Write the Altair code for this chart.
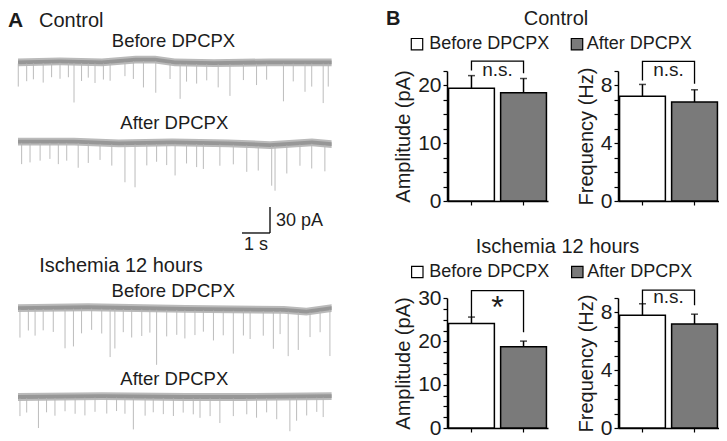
import altair as alt
import numpy as np
import pandas as pd

FONT = "Liberation Sans"
INK = "#1c1c1c"

# ---------------- Panel A: sample traces (events) ----------------
# event times (s) and amplitudes (pA) of the visible inward currents
ctrl_before_t = [0.01, 0.31, 0.55, 0.90, 1.20, 1.50, 1.80, 2.00, 2.27, 2.51, 2.75, 3.05, 3.29, 3.82, 4.12,
                 4.48, 4.92, 5.43, 5.79, 6.02, 6.38, 6.74, 7.15, 7.57, 8.05, 8.52, 8.88, 9.48, 9.83, 10.25,
                 10.49, 10.90, 11.08]
ctrl_before_amp = [28, 22, 20, 24, 18, 20, 18, 47, 22, 18, 24, 20, 22, 18, 22, 32, 38, 20, 42, 22, 24, 20,
                   28, 38, 20, 26, 20, 45, 22, 34, 28, 47, 28]
ctrl_after_t = [0.13, 0.43, 0.79, 1.14, 1.44, 1.74, 2.15, 2.51, 2.93, 3.35, 3.82, 4.18, 4.60, 4.95, 5.31,
                5.61, 6.02, 6.38, 6.62, 7.21, 7.69, 8.17, 8.58, 9.06, 9.18, 9.60, 10.07, 10.49, 10.96]
ctrl_after_amp = [26, 24, 22, 20, 26, 22, 30, 24, 20, 26, 45, 51, 26, 22, 26, 38, 24, 28, 30, 26, 24, 32,
                  30, 47, 53, 34, 26, 30, 32]
isch_before_t = [0.07, 0.37, 0.61, 0.90, 1.26, 1.68, 1.98, 2.27, 2.63, 2.99, 3.29, 3.46, 3.76, 4.06, 4.42,
                 4.71, 4.95, 5.31, 5.67, 5.96, 6.32, 6.62, 6.98, 7.33, 7.69, 8.05, 8.29, 8.76, 9.12, 9.36,
                 9.65, 10.01, 10.43, 10.79, 11.14]
isch_before_amp = [34, 26, 32, 26, 28, 47, 45, 30, 26, 30, 57, 47, 28, 34, 32, 28, 65, 32, 30, 34, 30, 26,
                   36, 30, 51, 30, 34, 30, 45, 28, 53, 45, 30, 26, 55]
isch_after_t = [0.07, 0.31, 0.73, 1.02, 1.32, 1.68, 2.04, 2.39, 2.75, 3.17, 3.52, 3.82, 4.12, 4.54, 4.83,
                5.19, 5.55, 5.90, 6.26, 6.50, 6.86, 7.21, 7.69, 8.17, 8.52, 8.88, 9.24, 9.71, 9.95, 10.31,
                10.67, 10.90]
isch_after_amp = [22, 18, 36, 18, 22, 17, 20, 22, 18, 20, 17, 20, 38, 22, 18, 20, 22, 18, 20, 24, 22, 30,
                  22, 20, 24, 18, 26, 40, 28, 22, 18, 24]

# slow baseline drift (pA) read at a few times (s)
ctrl_before_drift_t = [0, 1.5, 3.0, 4.2, 4.9, 5.6, 7.0, 9.0, 11.2]
ctrl_before_drift = [0, 1, 0, 3, 3, 0, -1, 0, 0]
ctrl_after_drift_t = [0, 2.0, 3.6, 5.5, 7.5, 9.0, 10.5, 11.2]
ctrl_after_drift = [2, 2, 0, 1, 0, -2, 1, -1]
isch_before_drift_t = [0, 2.5, 6.0, 9.5, 10.3, 11.2]
isch_before_drift = [1, 2, 0, -1, -3, 1]
isch_after_drift_t = [0, 3.0, 6.0, 8.0, 11.2]
isch_after_drift = [0, 1, 0, 0, 1]

SCALE_BAR_S = 1        # s
SCALE_BAR_PA = 30      # pA

# ---------------- Panel B: bar-graph values ----------------
conditions = ["Before DPCPX", "After DPCPX"]
ctrl_amp_mean = [19.5, 18.75]
ctrl_amp_sem = [2.2, 2.45]
ctrl_freq_mean = [7.25, 6.85]
ctrl_freq_sem = [0.82, 0.85]
isch_amp_mean = [24.1, 18.75]
isch_amp_sem = [1.5, 1.3]
isch_freq_mean = [7.8, 7.2]
isch_freq_sem = [0.8, 0.68]
significance = ["n.s.", "n.s.", "*", "n.s."]

# ---------------- layout constants ----------------
PX_PER_S = 28.0
PX_PER_PA = 425.0 / 490.0
A_W = 369
ROW_H = [63, 130, 97, 130]
trace_offsets = [-62.6, -156.0, -347.0, -448.5]   # vertical placement of the 4 traces (pA units)
NOISE_OUT, NOISE_IN = 4.5, 2.2
BW, BH = 101, 130

ONE = pd.DataFrame({"k": [0]})


def text_mark(s, x, y, size, align="left", weight="normal"):
    return alt.Chart(ONE).mark_text(
        text=s, font=FONT, fontSize=size, fontWeight=weight, align=align,
        baseline="alphabetic", color=INK
    ).encode(x=alt.value(x), y=alt.value(y))


def square(x, y, fill):
    return alt.Chart(ONE).mark_square(
        size=130, fill=fill, stroke="black", strokeWidth=1.2, opacity=1
    ).encode(x=alt.value(x), y=alt.value(y))


def blank(w, h):
    return alt.Chart(ONE).mark_text(text=" ", opacity=0, fontSize=2, baseline="middle").encode(
        x=alt.value(w / 2), y=alt.value(h / 2)).properties(width=w, height=h)


# ---- build panel A tables ----
traces = [
    (ctrl_before_t, ctrl_before_amp, ctrl_before_drift_t, ctrl_before_drift),
    (ctrl_after_t, ctrl_after_amp, ctrl_after_drift_t, ctrl_after_drift),
    (isch_before_t, isch_before_amp, isch_before_drift_t, isch_before_drift),
    (isch_after_t, isch_after_amp, isch_after_drift_t, isch_after_drift),
]
band_rows, spike_rows = [], []
for i, ((ts, amps, dt, dv), off) in enumerate(zip(traces, trace_offsets)):
    for t, v in zip(dt, dv):
        base = off + v
        band_rows.append({"trace": i, "t": t, "lo": base - NOISE_OUT, "hi": base + NOISE_OUT,
                          "lo2": base - NOISE_IN, "hi2": base + NOISE_IN})
    for t, a in zip(ts, amps):
        base = off + float(np.interp(t, dt, dv))
        spike_rows.append({"trace": i, "t": t, "y0": base - 1.5, "y1": base - a})
band_df = pd.DataFrame(band_rows)
spike_df = pd.DataFrame(spike_rows)

xsA = alt.Scale(domain=[-10 / PX_PER_S, (A_W - 10) / PX_PER_S], nice=False, zero=False)
ysA = alt.Scale(domain=[-ROW_H[0] / PX_PER_PA, 0], nice=False, zero=False)

corner_t, corner_v = 9.0, -259.4
sb_df = pd.DataFrame({
    "x": [corner_t - SCALE_BAR_S, corner_t],
    "x2": [corner_t, corner_t],
    "y": [corner_v, corner_v],
    "y2": [corner_v, corner_v + SCALE_BAR_PA],
})

outer = alt.Chart(band_df).mark_area(color="#bababa", opacity=1).encode(
    x=alt.X("t:Q", scale=xsA, axis=None),
    y=alt.Y("lo:Q", scale=ysA, axis=None, stack=None), y2="hi:Q", detail="trace:N")
inner = alt.Chart(band_df).mark_area(color="#979797", opacity=1).encode(
    x=alt.X("t:Q", scale=xsA, axis=None),
    y=alt.Y("lo2:Q", scale=ysA, axis=None, stack=None), y2="hi2:Q", detail="trace:N")
spikes = alt.Chart(spike_df).mark_rule(color="#b4b4b4", strokeWidth=0.9).encode(
    x=alt.X("t:Q", scale=xsA, axis=None),
    y=alt.Y("y0:Q", scale=ysA, axis=None), y2="y1:Q")
scalebar = alt.Chart(sb_df).mark_rule(color="black", strokeWidth=1.3).encode(
    x=alt.X("x:Q", scale=xsA, axis=None), x2="x2:Q",
    y=alt.Y("y:Q", scale=ysA, axis=None), y2="y2:Q")

panelA = alt.layer(
    outer, inner, spikes, scalebar,
    text_mark("A", 0, 18.5, 21, weight="bold"),
    text_mark("Control", 31, 18.5, 20),
    text_mark("Before DPCPX", 165.5, 39.3, 18.5, align="center"),
    text_mark("After DPCPX", 166.3, 121.3, 18.5, align="center"),
    text_mark("30 pA", 268, 218, 18),
    text_mark("1 s", 248, 242, 18, align="center"),
    text_mark("Ischemia 12 hours", 31.3, 263.7, 20),
    text_mark("Before DPCPX", 165.3, 288.7, 18.5, align="center"),
    text_mark("After DPCPX", 166.3, 377, 18.5, align="center"),
).properties(width=A_W, height=ROW_H[0])


# ---- panel B ----
def bar_panel(means, sems, ymax, step, label_step, title, br_top, br_legs, sig, sig_size, sig_dy):
    df = pd.DataFrame({"cond": conditions, "mean": means,
                       "top": [m + s for m, s in zip(means, sems)]})
    xsc = alt.Scale(domain=conditions, paddingInner=0.12, paddingOuter=0.03)
    ysc = alt.Scale(domain=[0, ymax], nice=False, zero=True)
    n = int(round(ymax / step))
    vals = [round(i * step, 4) for i in range(n + 1)]
    xax = alt.Axis(labels=False, title=None, ticks=True, tickSize=4, tickWidth=1.2,
                   tickColor="black", domainColor="black", domainWidth=1.5, grid=False)
    yax = alt.Axis(values=vals, labelExpr=f"datum.value % {label_step} === 0 ? datum.label : ''",
                   title=title, tickSize=4, tickWidth=1.2, tickColor="black",
                   domainColor="black", domainWidth=1.5, labelFontSize=21, labelFont=FONT,
                   labelPadding=2, labelColor=INK, labelFlush=False, labelOverlap=False,
                   titleFontSize=20, titleFont=FONT, titleFontWeight="normal", titleColor=INK,
                   titlePadding=4, grid=False)

    X = alt.X("cond:N", scale=xsc, axis=xax, title=None)

    def Y(field):
        return alt.Y(field, type="quantitative", scale=ysc, axis=yax, title=title)

    base = alt.Chart(df)
    bar = base.mark_bar(stroke="black", strokeWidth=1.5).encode(
        x=X, y=Y("mean"),
        fill=alt.Fill("cond:N", scale=alt.Scale(domain=conditions, range=["white", "#7a7a7a"]),
                      legend=None))
    err = base.mark_rule(color="black", strokeWidth=1.5).encode(x=X, y=Y("mean"), y2="top:Q")
    cap = base.mark_tick(color="black", thickness=1.5, size=7).encode(x=X, y=Y("top"))
    bdf = pd.DataFrame({"cond": [conditions[0], conditions[0], conditions[1], conditions[1]],
                        "v": [br_legs[0], br_top, br_top, br_legs[1]], "o": [0, 1, 2, 3]})
    br = alt.Chart(bdf).mark_line(color="black", strokeWidth=1.3).encode(
        x=X, y=Y("v"), order="o:Q")
    txt = alt.Chart(pd.DataFrame({"s": [sig], "v": [br_top]})).mark_text(
        font=FONT, fontSize=sig_size, dy=sig_dy, color=INK, baseline="alphabetic").encode(
        x=alt.value(BW / 2), y=Y("v"), text="s:N")
    return alt.layer(bar, err, cap, br, txt).properties(width=BW, height=BH)


ctrl_amp = bar_panel(ctrl_amp_mean, ctrl_amp_sem, 22.5, 2.5, 10, "Amplitude (pA)",
                     24.2, [22.6, 22.1], significance[0], 19, 14.7)
ctrl_freq = bar_panel(ctrl_freq_mean, ctrl_freq_sem, 9, 1, 4, "Frequency (Hz)",
                      9.66, [8.35, 8.12], significance[1], 19, 14.7)
isch_amp = bar_panel(isch_amp_mean, isch_amp_sem, 30, 2.5, 10, "Amplitude (pA)",
                     31.7, [25.6, 22.1], significance[2], 32, 27)
isch_freq = bar_panel(isch_freq_mean, isch_freq_sem, 9, 1, 4, "Frequency (Hz)",
                      9.55, [8.58, 8.5], significance[3], 19, 13)

header1 = alt.layer(
    text_mark("B", -61, 17, 20, weight="bold"),
    text_mark("Control", 109, 17, 20, align="center"),
    square(-30, 36.2, "white"),
    square(130, 36.2, "#7a7a7a"),
    text_mark("Before DPCPX", -17.7, 41.3, 18),
    text_mark("After DPCPX", 139.7, 41.3, 18),
).properties(width=BW, height=ROW_H[0])

header2 = alt.layer(
    text_mark("Ischemia 12 hours", 110.5, 51.7, 20, align="center"),
    square(-29.7, 71, "white"),
    square(130.3, 71, "#7a7a7a"),
    text_mark("Before DPCPX", -17.7, 76.3, 18),
    text_mark("After DPCPX", 140.3, 76.3, 18),
).properties(width=BW, height=ROW_H[2])

cells = [
    panelA, header1, blank(BW, ROW_H[0]),
    blank(A_W, ROW_H[1]), ctrl_amp, ctrl_freq,
    blank(A_W, ROW_H[2]), header2, blank(BW, ROW_H[2]),
    blank(A_W, ROW_H[3]), isch_amp, isch_freq,
]

chart = alt.concat(
    *cells, columns=3, spacing={"row": 0, "column": 70}, bounds="flush"
).properties(padding=0).configure(font=FONT).configure_view(stroke=None).configure_axis(grid=False)

chart.save("out.html", embed_options={"renderer": "svg", "actions": False})
